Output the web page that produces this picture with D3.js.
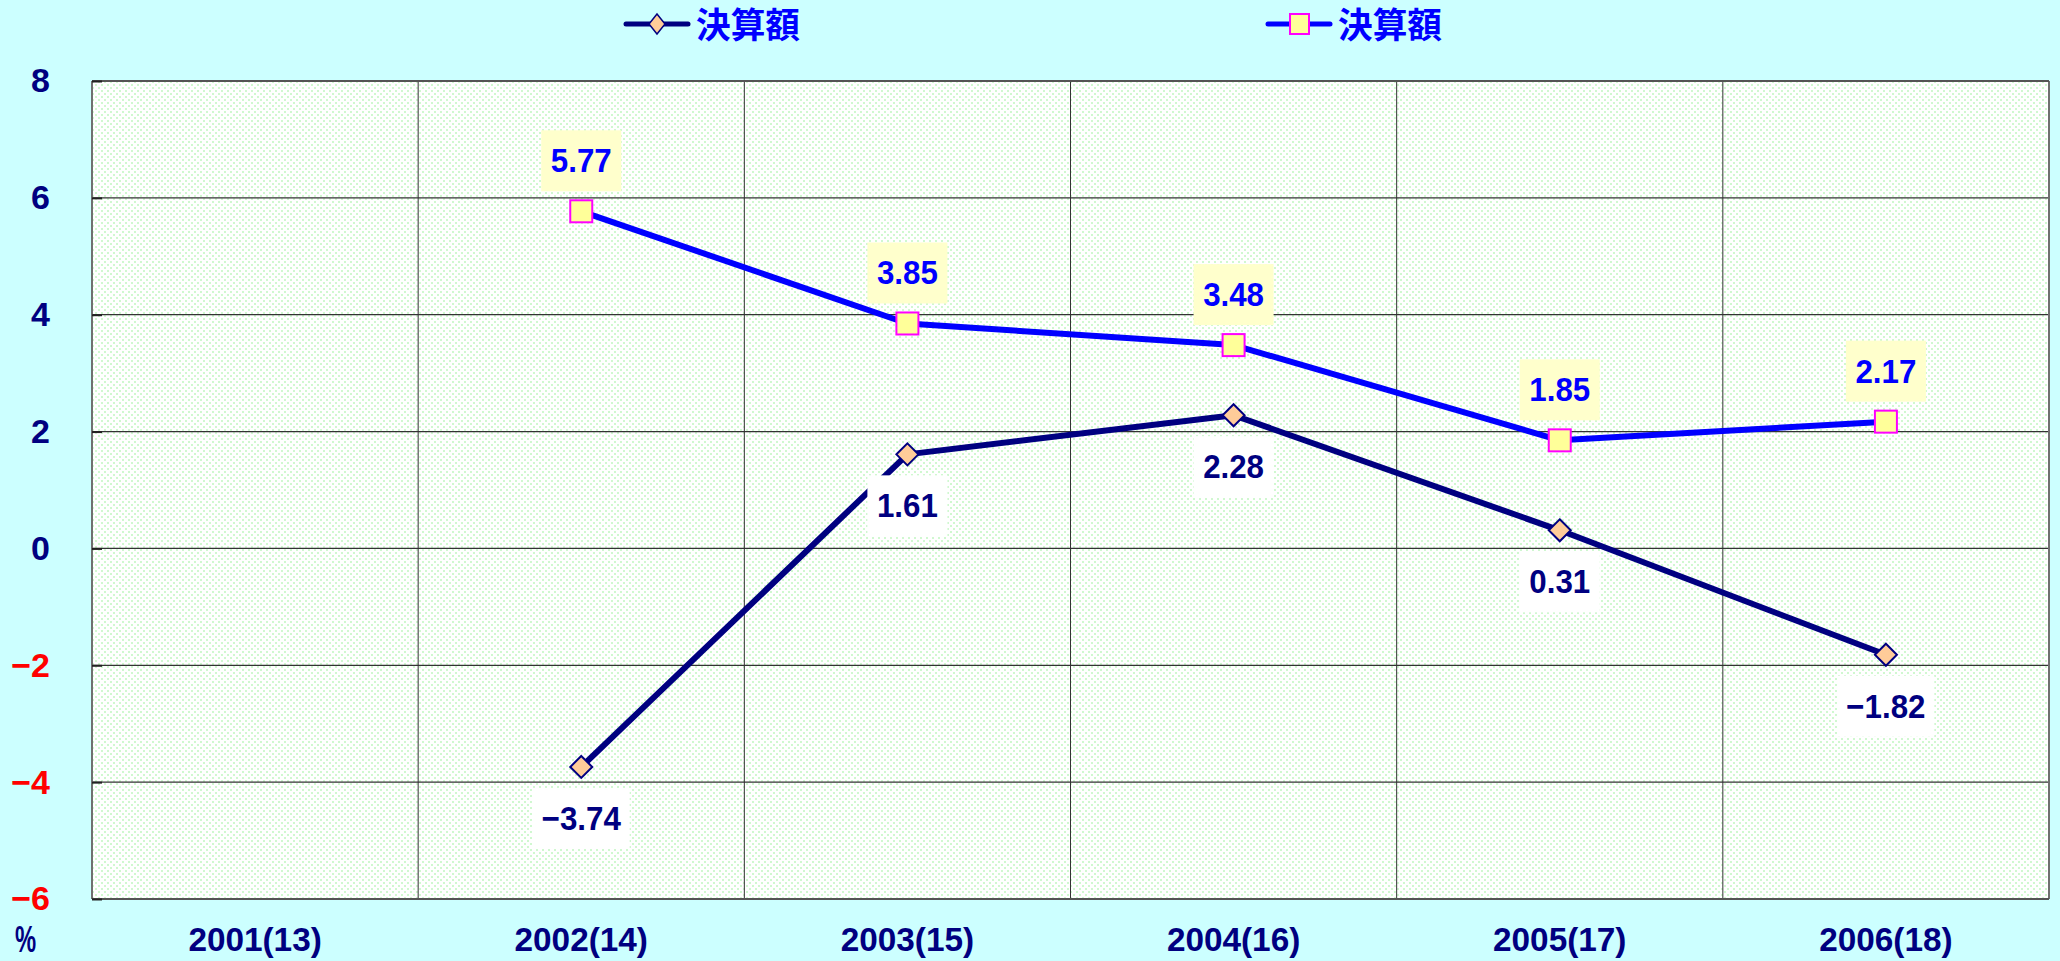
<!DOCTYPE html>
<html>
<head>
  <meta charset="utf-8">
  <title>決算額</title>
  <script src="https://d3js.org/d3.v7.min.js"></script>
  <style>
    body { margin: 0; background: #ccffff; }
    svg { display: block; }
    .num { font-family: "Liberation Sans", Arial, sans-serif; font-weight: bold; }
    .jp { font-family: "Noto Sans CJK JP", sans-serif; font-weight: bold; }
  </style>
</head>
<body>
  <svg id="chart"></svg>
  <script>
    // data
    const categories = ["2001(13)", "2002(14)", "2003(15)", "2004(16)", "2005(17)", "2006(18)"];
    const seriesA = [null, -3.74, 1.61, 2.28, 0.31, -1.82];   // navy, diamonds
    const seriesB = [null, 5.77, 3.85, 3.48, 1.85, 2.17];     // blue, squares
    const legendNames = ["決算額", "決算額"];
    const yTicks = [-6, -4, -2, 0, 2, 4, 6, 8];

    const width = 2060, height = 961;
    const margin = { top: 81, right: 11, bottom: 62, left: 92 };
    const chartWidth = width - margin.left - margin.right;
    const chartHeight = height - margin.top - margin.bottom;

    const svg = d3.select("#chart").attr("width", width).attr("height", height);

    // squeeze a text a bit horizontally, the original font is narrow
    function narrow(sel, f) {
      sel.each(function () {
        const w = this.getComputedTextLength();
        d3.select(this).attr("textLength", w * f).attr("lengthAdjust", "spacingAndGlyphs");
      });
    }

    // dotted green fill of the plot area
    const defs = svg.append("defs");
    const pat = defs.append("pattern")
      .attr("id", "dots")
      .attr("width", 6).attr("height", 6)
      .attr("patternUnits", "userSpaceOnUse");
    pat.append("rect").attr("width", 6).attr("height", 6).attr("fill", "#ffffff");
    pat.append("rect").attr("x", 0).attr("y", 0).attr("width", 2).attr("height", 2).attr("fill", "#d0f8d0");
    pat.append("rect").attr("x", 3).attr("y", 3).attr("width", 2).attr("height", 2).attr("fill", "#d0f8d0");

    const xScale = d3.scaleBand().domain(categories).range([0, chartWidth]);
    const yScale = d3.scaleLinear().domain([-6, 8]).range([chartHeight, 0]);

    const g = svg.append("g").attr("transform", `translate(${margin.left}, ${margin.top})`);

    g.append("rect")
      .attr("width", chartWidth).attr("height", chartHeight)
      .attr("fill", "url(#dots)");

    // horizontal grid lines
    g.selectAll(".hgrid")
      .data(yTicks)
      .join("line")
      .attr("class", "hgrid")
      .attr("x1", 0).attr("x2", chartWidth)
      .attr("y1", d => yScale(d)).attr("y2", d => yScale(d))
      .attr("stroke", "#333").attr("stroke-width", 1.2);

    // vertical grid lines at category boundaries
    g.selectAll(".vgrid")
      .data(categories.slice(1))
      .join("line")
      .attr("class", "vgrid")
      .attr("x1", d => xScale(d)).attr("x2", d => xScale(d))
      .attr("y1", 0).attr("y2", chartHeight)
      .attr("stroke", "#333").attr("stroke-width", 1);

    // frame
    g.append("line").attr("x1", 0).attr("x2", 0).attr("y1", 0).attr("y2", chartHeight)
      .attr("stroke", "#707070").attr("stroke-width", 2);
    g.append("line").attr("x1", chartWidth).attr("x2", chartWidth).attr("y1", 0).attr("y2", chartHeight)
      .attr("stroke", "#707070").attr("stroke-width", 2);
    g.append("line").attr("x1", 0).attr("x2", chartWidth).attr("y1", 0).attr("y2", 0)
      .attr("stroke", "#555").attr("stroke-width", 2);
    g.append("line").attr("x1", 0).attr("x2", chartWidth).attr("y1", chartHeight).attr("y2", chartHeight)
      .attr("stroke", "#555").attr("stroke-width", 2);

    // y axis labels
    const yAxis = d3.axisLeft(yScale).tickValues(yTicks).tickSize(-10).tickPadding(42).tickFormat(d => d < 0 ? "\u2212" + Math.abs(d) : d);
    const ya = g.append("g").call(yAxis);
    ya.select(".domain").remove();
    ya.selectAll(".tick line").attr("stroke", "#222").attr("stroke-width", 2);
    ya.selectAll(".tick text")
      .attr("class", "num")
      .attr("font-size", 34)
      .attr("fill", d => d < 0 ? "#ff0000" : "#000080");

    // x axis labels
    g.selectAll(".xlab")
      .data(categories)
      .join("text")
      .attr("class", "num xlab")
      .attr("x", d => xScale(d) + xScale.bandwidth() / 2)
      .attr("y", chartHeight + 52)
      .attr("text-anchor", "middle")
      .attr("font-size", 34)
      .attr("fill", "#000080")
      .text(d => d)
      .call(narrow, 0.98);

    svg.append("text")
      .attr("class", "num")
      .attr("x", 15).attr("y", 952)
      .attr("font-size", 36)
      .attr("fill", "#000080")
      .text("%")
      .call(narrow, 0.66);

    const cx = i => xScale(categories[i]) + xScale.bandwidth() / 2;
    const line = d3.line()
      .defined(d => d != null)
      .x((d, i) => cx(i))
      .y(d => yScale(d));

    // lines
    g.append("path").datum(seriesA).attr("d", line)
      .attr("fill", "none").attr("stroke", "#000080").attr("stroke-width", 6).attr("stroke-linejoin", "round");
    g.append("path").datum(seriesB).attr("d", line)
      .attr("fill", "none").attr("stroke", "#0000ff").attr("stroke-width", 6).attr("stroke-linejoin", "round");

    const ptsA = seriesA.map((v, i) => ({ v, i })).filter(d => d.v != null);
    const ptsB = seriesB.map((v, i) => ({ v, i })).filter(d => d.v != null);

    // markers
    g.selectAll(".dia")
      .data(ptsA)
      .join("path")
      .attr("class", "dia")
      .attr("d", "M0,-11L11,0L0,11L-11,0Z")
      .attr("transform", d => `translate(${cx(d.i)}, ${yScale(d.v)})`)
      .attr("fill", "#ffcc99").attr("stroke", "#000080").attr("stroke-width", 2);
    g.selectAll(".sq")
      .data(ptsB)
      .join("rect")
      .attr("class", "sq")
      .attr("x", d => cx(d.i) - 11).attr("y", d => yScale(d.v) - 11)
      .attr("width", 22).attr("height", 22)
      .attr("fill", "#ffff99").attr("stroke", "#ff00ff").attr("stroke-width", 2);

    // data labels
    function labels(pts, dy, color, bg) {
      const lg = g.append("g");
      pts.forEach(d => {
        const x = cx(d.i), y = yScale(d.v) + dy;
        const box = lg.append("rect").attr("fill", bg);
        const t = lg.append("text")
          .attr("class", "num")
          .attr("x", x).attr("y", y + 12)
          .attr("text-anchor", "middle")
          .attr("font-size", 34)
          .attr("fill", color)
          .text(d.v < 0 ? "\u2212" + Math.abs(d.v).toFixed(2) : d.v.toFixed(2))
          .call(narrow, 0.92);
        const w = t.node().getComputedTextLength() * 0.92;
        box.attr("x", x - w / 2 - 12).attr("y", y - 30)
          .attr("width", w + 24).attr("height", 61);
      });
    }
    labels(ptsB, -51, "#0000ff", "#ffffcc");
    labels(ptsA, 51, "#000080", "#ffffff");

    // legend
    const legendItems = [
      { name: legendNames[0], x: 624, stroke: "#000080", marker: "dia" },
      { name: legendNames[1], x: 1266, stroke: "#0000ff", marker: "sq" }
    ];
    legendItems.forEach(it => {
      const lgd = svg.append("g").attr("transform", `translate(${it.x}, 24)`);
      lgd.append("line").attr("x1", 2).attr("x2", 64).attr("y1", 0).attr("y2", 0)
        .attr("stroke", it.stroke).attr("stroke-width", 5).attr("stroke-linecap", "round");
      if (it.marker === "dia") {
        lgd.append("path").attr("d", "M33,-10L41,0L33,10L25,0Z")
          .attr("fill", "#ffcc99").attr("stroke", "#000080").attr("stroke-width", 1.5);
      } else {
        lgd.append("rect").attr("x", 24).attr("y", -10).attr("width", 19).attr("height", 20)
          .attr("fill", "#ffff99").attr("stroke", "#ff00ff").attr("stroke-width", 2);
      }
      lgd.append("text")
        .attr("class", "jp")
        .attr("x", 72).attr("y", 14)
        .attr("font-size", 35)
        .attr("fill", "#0000ff")
        .attr("textLength", 104).attr("lengthAdjust", "spacingAndGlyphs")
        .text(it.name);
    });
  </script>
</body>
</html>
